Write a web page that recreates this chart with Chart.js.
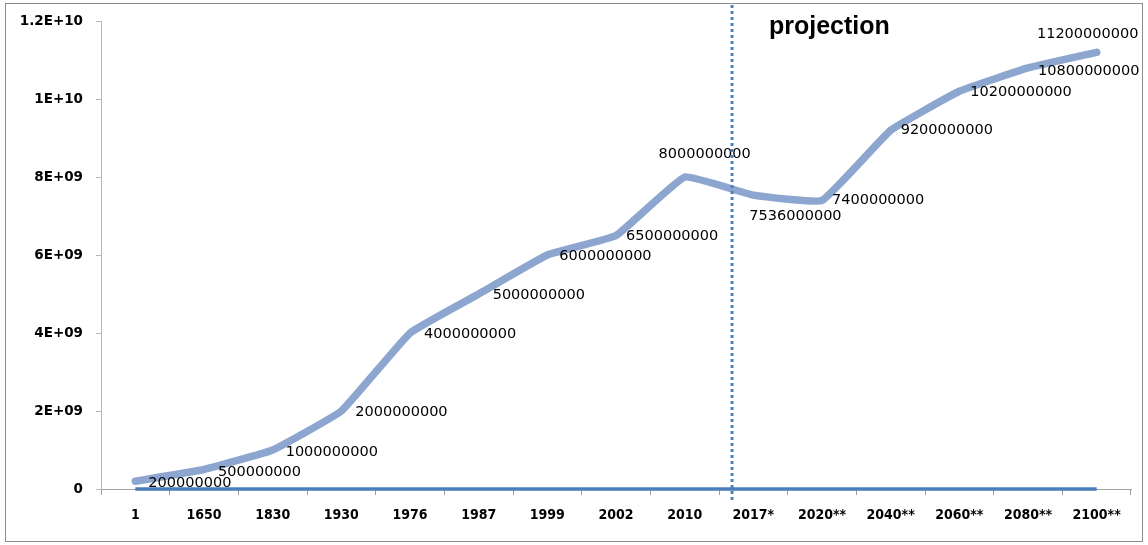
<!DOCTYPE html>
<html lang="en">
<head>
    <meta charset="UTF-8">
    <title>World population</title>
    <script src="https://cdn.jsdelivr.net/npm/chart.js"></script>
    <style>
        html, body {
            margin: 0;
            padding: 0;
            background: #fff;
        }
        .wrap {
            position: relative;
            width: 1148px;
            height: 545px;
        }
        .frame {
            position: absolute;
            left: 5px;
            top: 3px;
            width: 1136px;
            height: 537px;
            border: 1.5px solid #8c8c8c;
            pointer-events: none;
        }
    </style>
</head>
<body>
    <div class="wrap">
        <canvas id="popChart" width="1148" height="545"></canvas>
        <div class="frame"></div>
    </div>

    <script>
        // Data
        const years = ['1', '1650', '1830', '1930', '1976', '1987', '1999', '2002', '2010',
                       '2017*', '2020**', '2040**', '2060**', '2080**', '2100**'];
        const population = [200000000, 500000000, 1000000000, 2000000000, 4000000000,
                            5000000000, 6000000000, 6500000000, 8000000000, 7536000000,
                            7400000000, 9200000000, 10200000000, 10800000000, 11200000000];
        // the year column ended up plotted too (it sits on the zero line)
        const yearValues = [1, 1650, 1830, 1930, 1976, 1987, 1999, 2002, 2010,
                            2017, 2020, 2040, 2060, 2080, 2100];
        const yMax = 12000000000;
        const yStep = 2000000000;

        // where each value label sits relative to its point
        const labelNudge = [
            [13, 2, 'left'], [14, 3, 'left'], [13, 2, 'left'], [14, 1, 'left'],
            [14, 1, 'left'], [14, 1, 'left'], [12, 1, 'left'], [10, 1, 'left'],
            [20, -23, 'center'], [-4, 21, 'left'], [10, 0, 'left'], [10, 0, 'left'],
            [11, 1, 'left'], [10, 3, 'left'], [-9, -18, 'center']
        ];
        const projectionAt = 8.69; // between 2010 and 2017*

        function excelGeneral(v) {
            if (v === 0) return '0';
            const parts = v.toExponential().split('e');
            let exp = parseInt(parts[1], 10);
            const sign = exp < 0 ? '-' : '+';
            exp = Math.abs(exp);
            return parts[0] + 'E' + sign + (exp < 10 ? '0' + exp : exp);
        }

        const overlay = {
            id: 'overlay',
            afterDatasetsDraw(chart) {
                const ctx = chart.ctx;
                const x = chart.scales.x;
                const meta = chart.getDatasetMeta(0);

                // value labels
                ctx.save();
                ctx.font = '14.5px "DejaVu Sans"';
                ctx.fillStyle = '#000';
                ctx.textBaseline = 'middle';
                meta.data.forEach((pt, i) => {
                    const n = labelNudge[i];
                    ctx.textAlign = n[2];
                    ctx.fillText(String(population[i]), pt.x + n[0], pt.y + n[1]);
                });
                ctx.restore();

                // projection divider
                const px = x.getPixelForValue(projectionAt);
                ctx.save();
                ctx.strokeStyle = '#4f81bd';
                ctx.lineWidth = 3;
                ctx.setLineDash([3, 3]);
                ctx.beginPath();
                ctx.moveTo(px, 5);
                ctx.lineTo(px, 503);
                ctx.stroke();
                ctx.restore();

                ctx.save();
                ctx.font = 'bold 25px "Liberation Sans"';
                ctx.fillStyle = '#000';
                ctx.textAlign = 'left';
                ctx.textBaseline = 'middle';
                ctx.fillText('projection', 769, 27);
                ctx.restore();
            }
        };

        const ctx = document.getElementById('popChart').getContext('2d');
        new Chart(ctx, {
            type: 'line',
            data: {
                labels: years,
                datasets: [
                    {
                        label: 'Population',
                        data: population,
                        borderColor: '#8da6cf',
                        borderWidth: 7.5,
                        borderCapStyle: 'round',
                        borderJoinStyle: 'round',
                        pointRadius: 0,
                        tension: 0.1,
                        fill: false
                    },
                    {
                        label: 'Year',
                        data: yearValues,
                        borderColor: '#4a7ebb',
                        borderWidth: 3.5,
                        pointRadius: 0,
                        clip: false,
                        fill: false
                    }
                ]
            },
            options: {
                responsive: false,
                animation: false,
                layout: {
                    padding: { left: 0, right: 17, top: 20, bottom: 0 }
                },
                plugins: {
                    legend: { display: false },
                    tooltip: { enabled: false }
                },
                scales: {
                    x: {
                        offset: true,
                        afterFit: function(scale) { scale.height = 56; },
                        border: { display: true, color: '#a0a0a0', width: 1 },
                        grid: {
                            display: true,
                            offset: true,
                            drawOnChartArea: false,
                            drawTicks: true,
                            tickLength: 6,
                            color: '#a0a0a0'
                        },
                        ticks: {
                            autoSkip: false,
                            maxRotation: 0,
                            padding: 12,
                            color: '#000',
                            font: { family: '"DejaVu Sans Condensed"', size: 14, weight: 'bold' }
                        }
                    },
                    y: {
                        min: 0,
                        max: yMax,
                        afterFit: function(scale) { scale.width = 101; },
                        border: { display: true, color: '#b8b8b8', width: 1 },
                        grid: {
                            display: true,
                            drawOnChartArea: false,
                            drawTicks: true,
                            tickLength: 5,
                            color: '#b8b8b8'
                        },
                        ticks: {
                            stepSize: yStep,
                            padding: 13,
                            color: '#000',
                            font: { family: '"DejaVu Sans"', size: 13.5, weight: 'bold' },
                            callback: function(value) { return excelGeneral(value); }
                        }
                    }
                }
            },
            plugins: [overlay]
        });
    </script>
</body>
</html>
